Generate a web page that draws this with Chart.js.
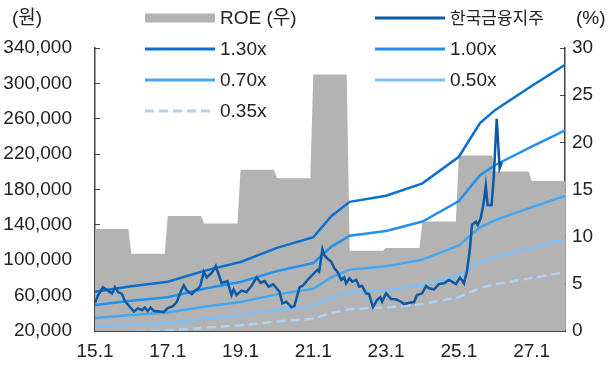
<!DOCTYPE html>
<html>
<head>
<meta charset="utf-8">
<script src="https://cdn.jsdelivr.net/npm/chart.js@4.4.0/dist/chart.umd.min.js"></script>
<style>
    html, body { margin: 0; padding: 0; background: #fff; }
    canvas { display: block; }
</style>
</head>
<body>
<canvas id="myChart" width="609" height="376"></canvas>
<script>
// ROE (우축, %) - 연도별
const roeYears = [15, 16, 17, 18, 19, 20, 21, 22, 23, 24, 25, 26, 27];
const roeValues = [10.8, 8.2, 12.2, 11.4, 17.1, 16.2, 27.2, 8.5, 8.8, 11.6, 18.6, 16.9, 15.9];

// PBR 밴드 (원) - 시점은 연도 (15 = 2015.1)
const bandDates = [15, 16, 17, 18, 19, 20, 21, 21.5, 22, 23, 24, 25, 25.58, 26, 27, 27.92];
const band130 = [64400, 70500, 75700, 88000, 98000, 114000, 126000, 150000, 166000, 173000, 187000, 217000, 255000, 270000, 297000, 321000];
const band100 = [49500, 54200, 58200, 67700, 75400, 87700, 96900, 115400, 127700, 133100, 143800, 166900, 196200, 207700, 228500, 246900];
const band070 = [34700, 38000, 40800, 47400, 52800, 61400, 67800, 80800, 89400, 93200, 100700, 116800, 137300, 145400, 159900, 172800];
const band050 = [24800, 27100, 29100, 33800, 37700, 43800, 48500, 57700, 63800, 66500, 71900, 83500, 98100, 103800, 114200, 123500];
const band035 = [17300, 19000, 20400, 23700, 26400, 30700, 33900, 40400, 44700, 46600, 50300, 58400, 68700, 72700, 80000, 86400];

// 한국금융지주 주가 (원)
const priceDates = [
    15.00, 15.08, 15.22, 15.36, 15.47, 15.55, 15.63, 15.74, 15.82, 15.93,
    16.07, 16.18, 16.29, 16.37, 16.45, 16.53, 16.62, 16.78, 16.89, 17.00,
    17.14, 17.25, 17.36, 17.44, 17.52, 17.66, 17.74, 17.85, 17.90, 17.99,
    18.07, 18.21, 18.32, 18.48, 18.64, 18.75, 18.81, 18.89, 19.03, 19.16,
    19.30, 19.44, 19.55, 19.66, 19.77, 19.90, 20.07, 20.15, 20.26, 20.40,
    20.48, 20.62, 20.73, 20.84, 20.97, 21.11, 21.16, 21.25, 21.30, 21.38,
    21.49, 21.58, 21.66, 21.77, 21.85, 21.90, 21.99, 22.07, 22.18, 22.26,
    22.34, 22.45, 22.53, 22.64, 22.75, 22.84, 22.89, 23.00, 23.14, 23.27,
    23.41, 23.49, 23.63, 23.77, 23.85, 23.99, 24.10, 24.18, 24.32, 24.45,
    24.59, 24.73, 24.81, 24.92, 25.03, 25.08, 25.14, 25.22, 25.30, 25.36,
    25.47, 25.52, 25.60, 25.68, 25.74, 25.79, 25.90, 25.96, 26.04, 26.12,
    26.18
];
const prices = [
    52000, 60000, 69500, 65500, 62500, 69500, 64000, 62000, 54000, 48500,
    42000, 45500, 43500, 46500, 42500, 46500, 42500, 42000, 41500, 46000,
    48000, 53000, 65000, 71500, 66000, 61800, 65200, 68300, 72000, 87000,
    80500, 86000, 93500, 74000, 76500, 60700, 67000, 60700, 65600, 64000,
    70900, 80700, 74600, 76500, 70100, 72800, 64400, 51300, 53100, 46800,
    48300, 69400, 72000, 77700, 83300, 89000, 87100, 112400, 105900, 102200,
    98400, 90900, 87100, 77700, 80700, 73900, 79600, 75800, 77700, 70100,
    70900, 62600, 61800, 47000, 55000, 58100, 53100, 62600, 56200, 55800,
    53100, 50500, 52000, 52800, 60700, 62600, 70900, 68300, 67000, 73000,
    73900, 77700, 75800, 73100, 80300, 77700, 73900, 87100, 111600, 139900,
    143600, 139900, 147400, 164400, 184000, 162500, 162500, 194500, 260000, 204000,
    211000
];

const xTickValues = [15, 17, 19, 21, 23, 25, 27];
const xTickLabels = ['15.1', '17.1', '19.1', '21.1', '23.1', '25.1', '27.1'];
const leftTicks = [20000, 60000, 100000, 140000, 180000, 220000, 260000, 300000, 340000];
const rightTicks = [0, 5, 10, 15, 20, 25, 30];

const FONT = "'Liberation Sans', Arial, 'Noto Sans CJK KR', sans-serif";
const TEXT = '#222';
const AXIS = '#444';

// 연간 ROE를 1~12월 계단형으로
const roeSteps = [];
roeYears.forEach((yr, i) => {
    roeSteps.push({ x: yr, y: roeValues[i] });
    roeSteps.push({ x: yr + 11 / 12, y: roeValues[i] });
});

const toPoints = (xs, ys) => xs.map((x, i) => ({ x: x, y: ys[i] }));

function bandSet(label, values, color, dash) {
    return {
        label: label,
        data: toPoints(bandDates, values),
        borderColor: color,
        borderWidth: 2.5,
        borderDash: dash || [],
        pointRadius: 0,
        fill: false,
        yAxisID: 'y',
        order: 2
    };
}

const datasets = [
    {
        label: 'ROE (우)',
        data: roeSteps,
        borderWidth: 0,
        borderColor: 'rgba(0,0,0,0)',
        backgroundColor: '#b3b3b3',
        pointRadius: 0,
        fill: 'start',
        yAxisID: 'y2',
        order: 5
    },
    {
        label: '한국금융지주',
        data: toPoints(priceDates, prices),
        borderColor: '#0a5aa6',
        borderWidth: 2.5,
        pointRadius: 0,
        fill: false,
        yAxisID: 'y',
        order: 0
    },
    bandSet('1.30x', band130, '#0b6fcf'),
    bandSet('1.00x', band100, '#2290ee'),
    bandSet('0.70x', band070, '#45a6f4'),
    bandSet('0.50x', band050, '#7dbff8'),
    bandSet('0.35x', band035, '#a9d2f6', [9, 5])
];

// 범례 (2열) + 단위 표시
const legendLayout = [
    { ds: 0, col: 0, row: 0 },
    { ds: 1, col: 1, row: 0 },
    { ds: 2, col: 0, row: 1 },
    { ds: 3, col: 1, row: 1 },
    { ds: 4, col: 0, row: 2 },
    { ds: 5, col: 1, row: 2 },
    { ds: 6, col: 0, row: 3 }
];
const legendCols = [145, 375];
const legendRows = [18, 49, 80, 111];

const overlayPlugin = {
    id: 'overlay',
    afterDraw(chart) {
        const ctx = chart.ctx;
        ctx.save();
        ctx.textBaseline = 'middle';
        ctx.fillStyle = TEXT;
        ctx.font = '19px ' + FONT;
        ctx.textAlign = 'left';
        ctx.fillText('(원)', 12, 19);
        ctx.fillText('(%)', 576, 19);

        legendLayout.forEach(item => {
            const ds = chart.data.datasets[item.ds];
            const x = legendCols[item.col];
            const y = legendRows[item.row];
            if (ds.fill) {
                ctx.fillStyle = ds.backgroundColor;
                ctx.fillRect(x, y - 4.5, 70, 9);
            } else {
                ctx.strokeStyle = ds.borderColor;
                ctx.lineWidth = 3;
                ctx.setLineDash(ds.borderDash || []);
                ctx.beginPath();
                ctx.moveTo(x, y);
                ctx.lineTo(x + 70, y);
                ctx.stroke();
                ctx.setLineDash([]);
            }
            ctx.fillStyle = TEXT;
            ctx.font = (ds.label === '한국금융지주' ? '17px ' : '19px ') + FONT;
            ctx.fillText(ds.label, x + 75, y + 1);
        });
        ctx.restore();
    }
};

const tickFont = { family: FONT, size: 19 };

new Chart(document.getElementById('myChart'), {
    type: 'line',
    data: { datasets: datasets },
    options: {
        responsive: false,
        animation: false,
        layout: { padding: { top: 48, left: 0, right: 0, bottom: 0 } },
        elements: { line: { tension: 0 } },
        plugins: {
            legend: { display: false },
            tooltip: { enabled: false }
        },
        scales: {
            x: {
                type: 'linear',
                min: 15,
                max: 27 + 11 / 12,
                afterBuildTicks: axis => { axis.ticks = xTickValues.map(v => ({ value: v })); },
                afterFit: axis => { axis.height = 45; },
                border: { color: AXIS, width: 2 },
                grid: { drawOnChartArea: false, tickLength: -5, color: AXIS },
                ticks: {
                    padding: 14,
                    color: TEXT,
                    font: tickFont,
                    maxRotation: 0,
                    autoSkip: false,
                    callback: v => xTickLabels[xTickValues.indexOf(v)]
                }
            },
            y: {
                position: 'left',
                min: 20000,
                max: 340000,
                afterBuildTicks: axis => { axis.ticks = leftTicks.map(v => ({ value: v })); },
                afterFit: axis => { axis.width = 95; },
                border: { color: AXIS, width: 1.5 },
                grid: { drawOnChartArea: false, tickLength: -5, color: AXIS },
                ticks: {
                    padding: 28,
                    color: TEXT,
                    font: tickFont,
                    callback: v => v.toLocaleString('en-US')
                }
            },
            y2: {
                position: 'right',
                min: 0,
                max: 30,
                afterBuildTicks: axis => { axis.ticks = rightTicks.map(v => ({ value: v })); },
                afterFit: axis => { axis.width = 44; },
                border: { color: AXIS, width: 1.5 },
                grid: { drawOnChartArea: false, tickLength: -5, color: AXIS },
                ticks: {
                    padding: 12,
                    color: TEXT,
                    font: tickFont
                }
            }
        }
    },
    plugins: [overlayPlugin]
});
</script>
</body>
</html>
